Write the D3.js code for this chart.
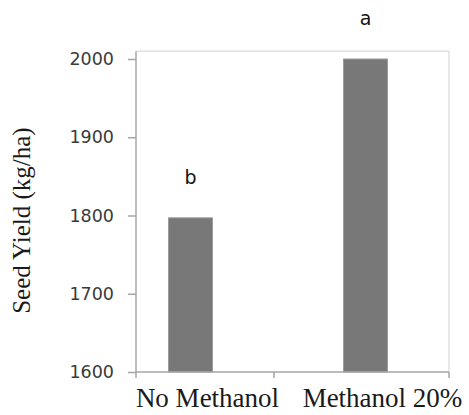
<!DOCTYPE html>
<html>
<head>
<meta charset="utf-8">
<script src="https://cdn.jsdelivr.net/npm/d3@7"></script>
<style>
  html, body { margin: 0; padding: 0; background: #fff; }
  svg { display: block; }
</style>
</head>
<body>
<svg id="chart" width="469" height="415"></svg>
<script>
const categories = ["No Methanol", "Methanol 20%"];
const seedYield = [1797, 2000];
const sigLetters = ["b", "a"];
const yTicks = [1600, 1700, 1800, 1900, 2000];
const yTitle = "Seed Yield (kg/ha)";

const svg = d3.select("#chart");
const plotLeft = 136, plotRight = 449;

const y = d3.scaleLinear().domain([1600, 2000]).range([372, 59]);
const x = d3.scaleBand().domain(categories).range([99, plotRight]);
const barW = 44;
const cx = c => x(c) + x.bandwidth() / 2 + 4;

// frame top/right
svg.append("line").attr("x1", plotLeft).attr("x2", plotRight)
  .attr("y1", y(2010)).attr("y2", y(2010)).attr("stroke", "#d9d9d9").attr("stroke-width", 1.2);
svg.append("line").attr("x1", plotRight).attr("x2", plotRight)
  .attr("y1", y(2010)).attr("y2", y(1600)).attr("stroke", "#d9d9d9").attr("stroke-width", 1.2);

// bars
svg.selectAll("rect.bar").data(categories).join("rect")
  .attr("class", "bar")
  .attr("x", c => cx(c) - barW / 2)
  .attr("width", barW)
  .attr("y", (c, i) => y(seedYield[i]))
  .attr("height", (c, i) => y(1600) - y(seedYield[i]))
  .attr("fill", "#787878")
  .attr("stroke", "#9c9c9c")
  .attr("stroke-width", 1);

// y axis
const yAxis = d3.axisLeft(y).tickValues(yTicks).tickSize(8).tickPadding(14).tickFormat(d3.format("d"));
const gy = svg.append("g").attr("transform", `translate(${plotLeft},0)`).call(yAxis);
gy.select(".domain").attr("d", `M0,${y(2010)}V${y(1600)}`).attr("stroke", "#a6a6a6").attr("stroke-width", 1.5);
gy.selectAll(".tick line").attr("stroke", "#a6a6a6").attr("stroke-width", 1.5);
gy.selectAll(".tick text")
  .attr("font-family", "'DejaVu Sans', sans-serif")
  .attr("font-size", 17.5)
  .attr("fill", "#3a3a3a");

// x axis line + ticks
svg.append("line").attr("x1", plotLeft).attr("x2", plotRight)
  .attr("y1", y(1600)).attr("y2", y(1600)).attr("stroke", "#a6a6a6").attr("stroke-width", 1.5);
const xTickPos = [plotLeft, x(categories[1]), plotRight];
svg.selectAll("line.xtick").data(xTickPos).join("line")
  .attr("class", "xtick")
  .attr("x1", d => d).attr("x2", d => d)
  .attr("y1", y(1600)).attr("y2", y(1600) + 6)
  .attr("stroke", "#a6a6a6").attr("stroke-width", 1.5);

// category labels
svg.selectAll("text.cat").data(categories).join("text")
  .attr("class", "cat")
  .attr("x", c => cx(c) + 17)
  .attr("y", 407)
  .attr("text-anchor", "middle")
  .attr("font-family", "'Liberation Serif', 'Times New Roman', serif")
  .attr("font-size", 27)
  .attr("fill", "#1a1a1a")
  .text(c => c);

// significance letters
svg.selectAll("text.sig").data(categories).join("text")
  .attr("class", "sig")
  .attr("x", c => cx(c))
  .attr("y", (c, i) => y(seedYield[i]) - 34)
  .attr("text-anchor", "middle")
  .attr("font-family", "'DejaVu Sans', sans-serif")
  .attr("font-size", 19)
  .attr("fill", "#111")
  .text((c, i) => sigLetters[i]);

// y title
svg.append("text")
  .attr("transform", `translate(30,${(y(1600) + y(2010)) / 2 + 9}) rotate(-90)`)
  .attr("text-anchor", "middle")
  .attr("font-family", "'Liberation Serif', 'Times New Roman', serif")
  .attr("font-size", 25)
  .attr("fill", "#1a1a1a")
  .text(yTitle);
</script>
</body>
</html>
